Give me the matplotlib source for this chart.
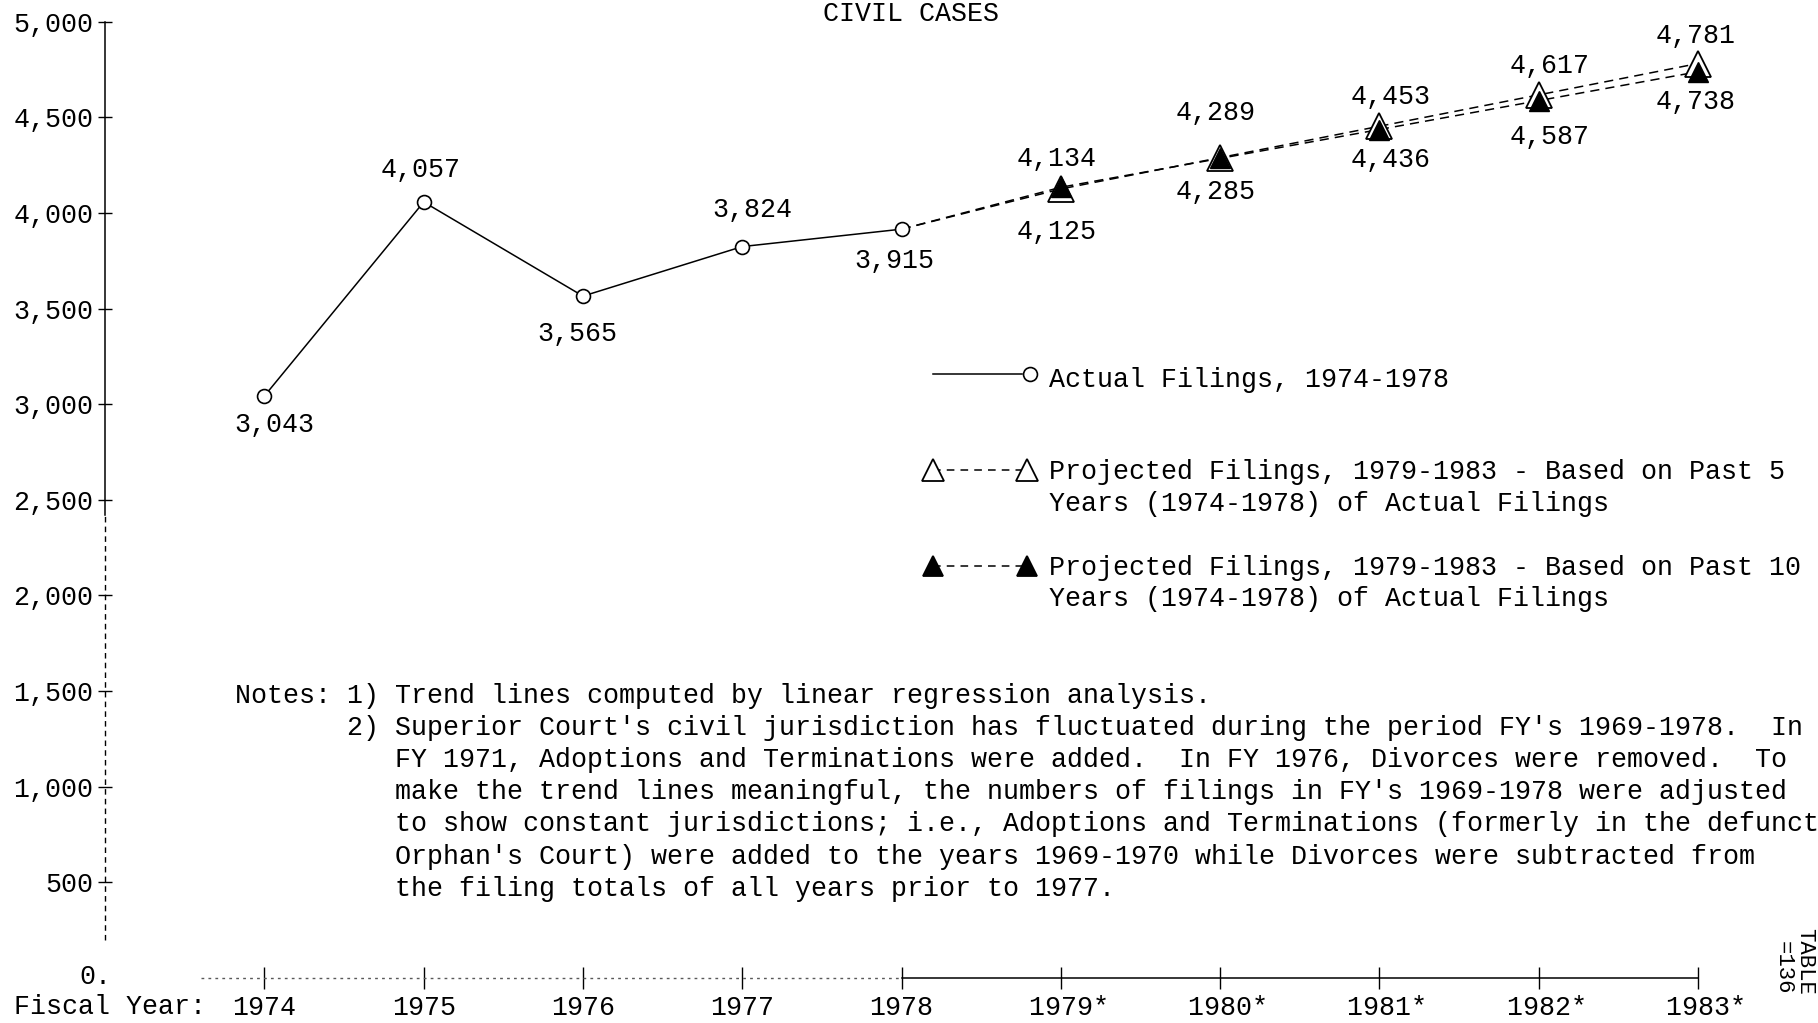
import matplotlib
matplotlib.use("Agg")
import matplotlib.pyplot as plt
from matplotlib.lines import Line2D

plt.rcParams['font.family'] = ['Liberation Mono', 'DejaVu Sans Mono']

# data
years_actual = [1974, 1975, 1976, 1977, 1978]
filings_actual = [3043, 4057, 3565, 3824, 3915]
years_proj = [1979, 1980, 1981, 1982, 1983]
proj_5yr = [4125, 4289, 4453, 4617, 4781]
proj_10yr = [4134, 4285, 4436, 4587, 4738]
xtick_years = years_actual + years_proj
xtick_labels = ['1974', '1975', '1976', '1977', '1978',
                ' 1979*', ' 1980*', ' 1981*', ' 1982*', ' 1983*']
ytick_vals = list(range(500, 5001, 500))

# label offsets (points) for the value labels
off_actual = [(7, -21), (-2, 23), (-4, -27), (7, 26), (-5, -23)]
off_5yr = [(-3, -31), (-3, 32), (8, 21), (8, 21), (-2, 20)]
off_10yr = [(-3, 20), (-3, -24), (8, -22), (8, -26), (-2, -22)]

W, H = 1818, 1023
FS = 19.2
fig = plt.figure(figsize=(W / 100, H / 100), dpi=100)
ax = fig.add_axes([0, 0, 1, 1])
ax.set_xlim(1972.34, 1983.753)
ax.set_ylim(-235, 5113)

def fx(x):
    return x / W

def fy(y):
    return 1 - y / H

# axes
for s in ['top', 'right']:
    ax.spines[s].set_visible(False)
ax.spines['left'].set_position(('data', 1973))
ax.spines['left'].set_bounds(2420, 5000)
ax.spines['bottom'].set_position(('data', 0))
ax.spines['bottom'].set_bounds(1978, 1983)
ax.spines['left'].set_linewidth(1.1)
ax.spines['bottom'].set_linewidth(1.1)
ax.plot([1973, 1973], [200, 2420], color='black', lw=1.0, ls=(0, (4, 3)))
ax.plot([1973.6, 1978], [0, 0], color='0.35', lw=1.0, ls=(0, (2, 3)))

ax.set_yticks(ytick_vals)
ax.set_yticklabels([f"{v:,}" for v in ytick_vals])
ax.set_xticks(xtick_years)
ax.set_xticklabels(xtick_labels)
ax.tick_params(axis='y', direction='inout', length=10, width=1, pad=3.6,
               labelsize=FS)
ax.tick_params(axis='x', direction='inout', length=16, width=1, pad=4,
               labelsize=FS)

# series
ax.plot(years_actual, filings_actual, color='black', lw=1.1, marker='o',
        ms=10, mfc='white', mec='black', mew=1.2, zorder=3)
ax.plot([years_actual[-1]] + years_proj, [filings_actual[-1]] + proj_5yr,
        color='black', lw=1.1, ls=(0, (6, 4)), zorder=2)
ax.plot(years_proj, proj_5yr, ls='none', marker='^', ms=19, mfc='white',
        mec='black', mew=1.3, zorder=4)
ax.plot([years_actual[-1]] + years_proj, [filings_actual[-1]] + proj_10yr,
        color='black', lw=1.1, ls=(0, (6, 4)), zorder=2)
ax.plot(years_proj, proj_10yr, ls='none', marker='^', ms=15, mfc='black',
        mec='black', zorder=5)

for xs, ys, offs in [(years_actual, filings_actual, off_actual),
                     (years_proj, proj_5yr, off_5yr),
                     (years_proj, proj_10yr, off_10yr)]:
    for x, y, (dx, dy) in zip(xs, ys, offs):
        ax.annotate(f"{y:,}", (x, y), xytext=(dx, dy),
                    textcoords='offset points', ha='center', va='center',
                    fontsize=FS)

# title at the top edge of the page
fig.text(fx(911), fy(1), "CIVIL CASES", ha='center', va='top', fontsize=FS)

# axis captions
fig.text(fx(14), fy(1007), "Fiscal Year:", ha='left', va='center', fontsize=FS)
fig.text(fx(79), fy(977), "0.", ha='left', va='center', fontsize=FS)

# legend
fig.add_artist(Line2D([fx(933), fx(1022)], [fy(374), fy(374)], color='black',
                      lw=1.1, transform=fig.transFigure))
fig.add_artist(Line2D([fx(1030)], [fy(374)], ls='none', marker='o', ms=10,
                      mfc='white', mec='black', mew=1.2,
                      transform=fig.transFigure))
for ly, fill in [(470, 'white'), (566, 'black')]:
    fig.add_artist(Line2D([fx(933), fx(1027)], [fy(ly), fy(ly)],
                          color='black', lw=1.1, ls=(0, (5, 4)),
                          transform=fig.transFigure))
    fig.add_artist(Line2D([fx(933), fx(1027)], [fy(ly), fy(ly)], ls='none',
                          marker='^', ms=16 if fill == 'white' else 14,
                          mfc=fill, mec='black', mew=1.3,
                          transform=fig.transFigure))

legend_lines = [
    (380, "Actual Filings, 1974-1978"),
    (472, "Projected Filings, 1979-1983 - Based on Past 5"),
    (504, "Years (1974-1978) of Actual Filings"),
    (568, "Projected Filings, 1979-1983 - Based on Past 10"),
    (599, "Years (1974-1978) of Actual Filings"),
]
for ly, txt in legend_lines:
    fig.text(fx(1049), fy(ly), txt, ha='left', va='center', fontsize=FS)

# notes
notes = [
    "Notes: 1) Trend lines computed by linear regression analysis.",
    "       2) Superior Court's civil jurisdiction has fluctuated during the period FY's 1969-1978.  In",
    "          FY 1971, Adoptions and Terminations were added.  In FY 1976, Divorces were removed.  To",
    "          make the trend lines meaningful, the numbers of filings in FY's 1969-1978 were adjusted",
    "          to show constant jurisdictions; i.e., Adoptions and Terminations (formerly in the defunct",
    "          Orphan's Court) were added to the years 1969-1970 while Divorces were subtracted from",
    "          the filing totals of all years prior to 1977.",
]
for i, line in enumerate(notes):
    fig.text(fx(235), fy(696 + i * 32.1), line, ha='left', va='center',
             fontsize=FS)

# page number stamp at the right edge
fig.text(fx(1815), fy(928), "TABLE\n=136", rotation=270, ha='right',
         va='top', fontsize=16, linespacing=1.0)

fig.savefig("out.png", dpi=100, facecolor='white')
